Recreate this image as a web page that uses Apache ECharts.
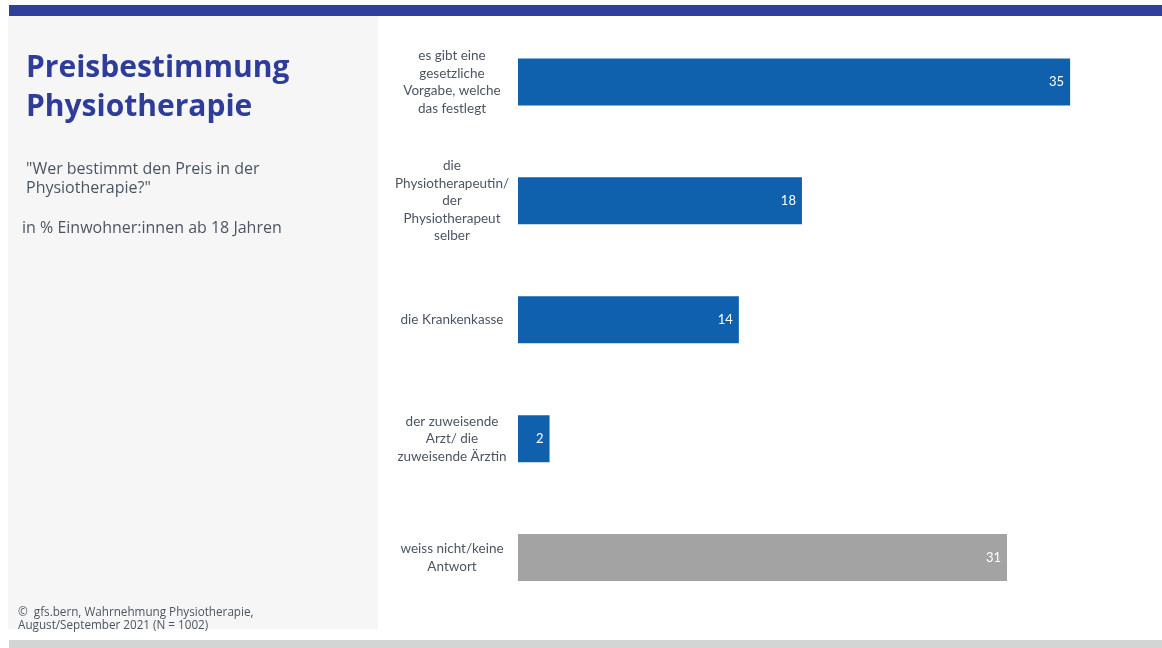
<!DOCTYPE html>
<html>
<head>
<meta charset="utf-8">
<script src="https://cdn.jsdelivr.net/npm/echarts@6/dist/echarts.min.js"></script>
<style>
  html, body { margin: 0; padding: 0; background: #ffffff; }
  #chart { width: 1162px; height: 648px; }
</style>
</head>
<body>
<div id="chart"></div>
<script>
// Survey answers, top to bottom
const categories = [
  'es gibt eine\ngesetzliche\nVorgabe, welche\ndas festlegt',
  'die\nPhysiotherapeutin/\nder\nPhysiotherapeut\nselber',
  'die Krankenkasse',
  'der zuweisende\nArzt/ die\nzuweisende Ärztin',
  'weiss nicht/keine\nAntwort'
];
// Share of respondents in %
const values = [35, 18, 14, 2, 31];
const barColors = ['#0f61ad', '#0f61ad', '#0f61ad', '#0f61ad', '#a3a3a3'];

const titleLines = ['Preisbestimmung', 'Physiotherapie'];
const questionLines = ['"Wer bestimmt den Preis in der', 'Physiotherapie?"'];
const baseText = 'in % Einwohner:innen ab 18 Jahren';
const sourceLines = ['©  gfs.bern, Wahrnehmung Physiotherapie,', 'August/September 2021 (N = 1002)'];

const FONT = 'Lato, "Open Sans", sans-serif';
const PANEL_FONT = '"Open Sans", Lato, sans-serif';
const chart = echarts.init(document.getElementById('chart'), null, { renderer: 'canvas' });

chart.setOption({
  backgroundColor: '#ffffff',
  animation: false,
  grid: { left: 518, right: 13, top: 22.5, bottom: 31, containLabel: false },
  xAxis: { type: 'value', min: 0, max: 40, show: false },
  yAxis: {
    type: 'category',
    inverse: true,
    data: categories,
    axisLine: { show: false },
    axisTick: { show: false },
    splitLine: { show: false },
    axisLabel: {
      margin: 66,
      align: 'center',
      color: '#4b5563',
      fontFamily: FONT,
      fontSize: 13.5,
      lineHeight: 17.5
    }
  },
  series: [{
    type: 'bar',
    barWidth: 47,
    data: values.map((v, i) => ({ value: v, itemStyle: { color: barColors[i] } })),
    label: {
      show: true,
      position: 'insideRight',
      distance: 6,
      color: '#ffffff',
      fontFamily: FONT,
      fontSize: 13
    }
  }],
  graphic: [
    { type: 'rect', silent: true, z: -10, shape: { x: 9, y: 5, width: 1153, height: 11 }, style: { fill: '#303f9a' } },
    { type: 'rect', silent: true, z: -10, shape: { x: 8, y: 16, width: 370, height: 613 }, style: { fill: '#f6f6f6' } },
    { type: 'rect', silent: true, z: -10, shape: { x: 9, y: 640, width: 1153, height: 8 }, style: { fill: '#d3d5d4' } },
    { type: 'text', silent: true, left: 26, top: 49, style: { text: titleLines.join('\n'), fill: '#2e3d99', font: 'bold 30px ' + PANEL_FONT, lineHeight: 39 } },
    { type: 'text', silent: true, left: 26, top: 160, style: { text: questionLines.join('\n'), fill: '#4b5563', font: '16px ' + PANEL_FONT, lineHeight: 19 } },
    { type: 'text', silent: true, left: 22, top: 220, style: { text: baseText, fill: '#4b5563', font: '16px ' + PANEL_FONT } },
    { type: 'text', silent: true, left: 18, top: 606, style: { text: sourceLines.join('\n'), fill: '#4b5563', font: '11.7px ' + PANEL_FONT, lineHeight: 13 } }
  ]
});
</script>
</body>
</html>
